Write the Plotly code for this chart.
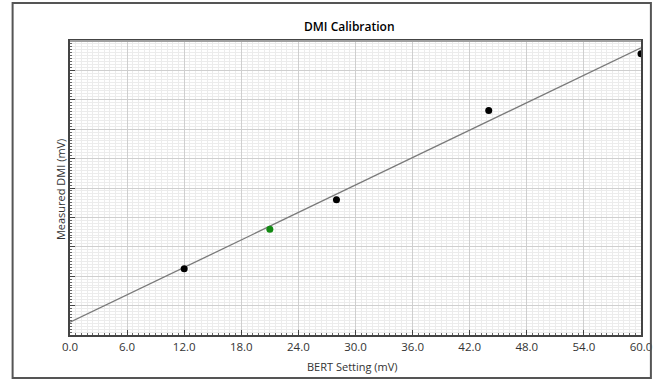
import plotly.graph_objects as go

# Data
bert_x = [12, 28, 44, 60]          # BERT setting (mV), black points
dmi_y = [13.5, 27.6, 45.8, 57.4]   # measured DMI (arbitrary units, no y labels)
sel_x = [21]                       # highlighted (green) point
sel_y = [21.6]
fit_x = [0, 60]                    # calibration fit line
fit_y = [2.6, 58.6]
x_ticks = [0, 6, 12, 18, 24, 30, 36, 42, 48, 54, 60]
x_tick_labels = ["0.0", "6.0", "12.0", "18.0", "24.0", "30.0", "36.0", "42.0", "48.0", "54.0", "60.0"]

L, R, T, B = 70, 17, 41, 44
W, H = 664, 379
pw, ph = W - L - R, H - T - B

fig = go.Figure()
fig.add_trace(go.Scatter(x=fit_x, y=fit_y, mode="lines",
                         line=dict(color="#7a7a7a", width=1.3), hoverinfo="skip"))
fig.add_trace(go.Scatter(x=bert_x, y=dmi_y, mode="markers",
                         marker=dict(color="black", size=7)))
fig.add_trace(go.Scatter(x=sel_x, y=sel_y, mode="markers",
                         marker=dict(color="#138a13", size=7)))

font = "Open Sans, Noto Sans, sans-serif"
fig.update_layout(
    width=W, height=H,
    margin=dict(l=L, r=R, t=T, b=B),
    paper_bgcolor="white", plot_bgcolor="white",
    showlegend=False,
    font=dict(family=font, size=11, color="#333333"),
    xaxis=dict(range=[0, 60], tickvals=x_ticks, ticktext=x_tick_labels,
               showline=True, linecolor="#444444", linewidth=1.5, mirror=True,
               ticks="inside", ticklen=5, tickcolor="#444444",
               showgrid=True, gridcolor="#cfcfcf", gridwidth=1, zeroline=False,
               minor=dict(dtick=0.6, showgrid=True, gridcolor="#ececec",
                          ticks="inside", ticklen=2, tickcolor="#666666"),
               tickfont=dict(size=11.5, color="#333333")),
    yaxis=dict(range=[0, 60], dtick=6, showticklabels=False,
               showline=True, linecolor="#444444", linewidth=1.5, mirror=True,
               ticks="inside", ticklen=5, tickcolor="#444444",
               showgrid=True, gridcolor="#cfcfcf", gridwidth=1, zeroline=False,
               minor=dict(dtick=0.6, showgrid=True, gridcolor="#ececec",
                          ticks="inside", ticklen=2, tickcolor="#666666")),
)

# outer frame
fig.add_shape(type="rect", xref="paper", yref="paper",
              x0=(12 - L) / pw, x1=(657 - L) / pw,
              y0=(T + ph - 378) / ph, y1=(T + ph - 3) / ph,
              line=dict(color="#555555", width=2), layer="above")
# top edge lighter, thicker
fig.add_shape(type="line", xref="paper", yref="paper", x0=0, x1=1, y0=1, y1=1,
              line=dict(color="#a0a0a0", width=2), layer="above")

fig.add_annotation(text="DMI Calibration", xref="paper", yref="paper",
                   x=(352 - L) / pw, y=(T + ph - 26) / ph, showarrow=False,
                   font=dict(family=font, size=12, color="black", weight=600),
                   xanchor="center", yanchor="middle")
fig.add_annotation(text="BERT Setting (mV)", xref="paper", yref="paper",
                   x=(355 - L) / pw, y=(T + ph - 367) / ph, showarrow=False,
                   font=dict(family=font, size=11, color="#333333"), xanchor="center", yanchor="middle")
fig.add_annotation(text="Measured DMI (mV)", xref="paper", yref="paper",
                   x=(60 - L) / pw, y=(T + ph - 190) / ph, showarrow=False, textangle=-90,
                   font=dict(family=font, size=11, color="#333333"), xanchor="center", yanchor="middle")

fig.write_html("out.html", config={"displayModeBar": False},
               post_script="document.body.style.margin='0';")
